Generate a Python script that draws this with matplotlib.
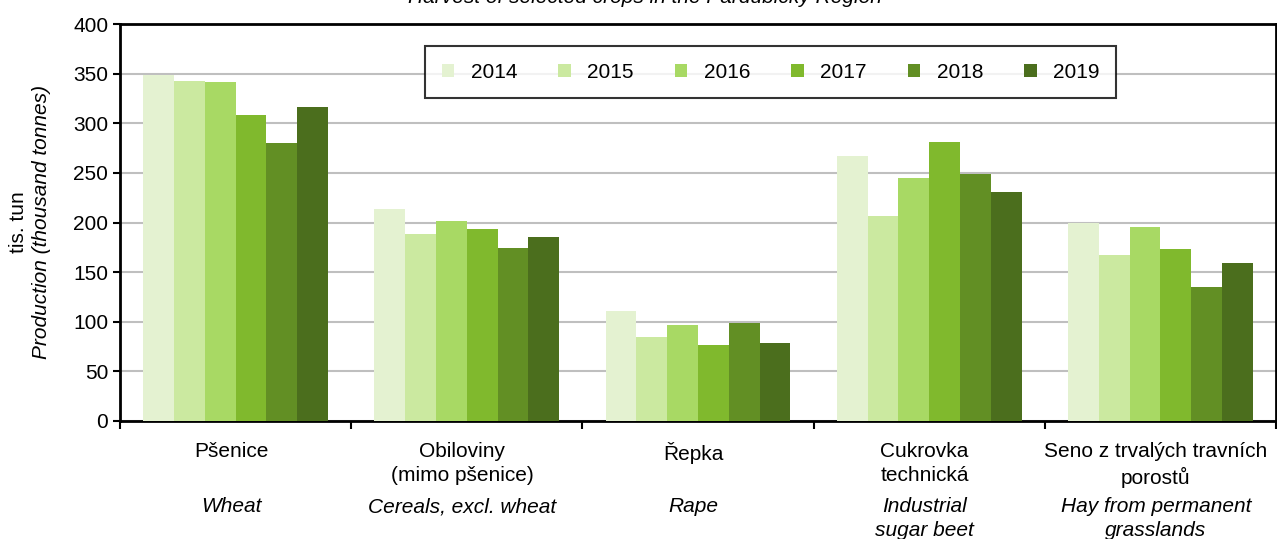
import matplotlib.pyplot as plt
import numpy as np

plt.rcParams['font.family'] = ['Liberation Sans', 'DejaVu Sans']

years = ["2014", "2015", "2016", "2017", "2018", "2019"]
crops_cz = ["Pšenice", "Obiloviny\n(mimo pšenice)", "Řepka", "Cukrovka\ntechnická",
            "Seno z trvalých travních\nporostů"]
crops_en = ["Wheat", "Cereals, excl. wheat", "Rape", "Industrial\nsugar beet",
            "Hay from permanent\ngrasslands"]

# thousand tonnes, per year across the crops
v2014 = [348.6, 214, 110.4, 267, 199]
v2015 = [342.6, 188, 84.6, 206.7, 166.8]
v2016 = [342, 201.8, 96.3, 245, 195]
v2017 = [308, 193.8, 76.2, 281.2, 172.8]
v2018 = [280, 174, 98.3, 249, 134.6]
v2019 = [316, 185.7, 78.5, 230.9, 158.7]
values = [v2014, v2015, v2016, v2017, v2018, v2019]

colors = ["#e4f2d1", "#cbe9a0", "#a8d964", "#80b92d", "#628f24", "#4b6e1d"]

fs = 15

fig = plt.figure(figsize=(12.77, 5.39), dpi=100)
ax = fig.add_axes([120 / 1277, 1 - 421 / 539, 1156 / 1277, 397 / 539])

x = np.arange(len(crops_cz))
w = 0.8 / len(years)
for i, (yr, vals) in enumerate(zip(years, values)):
    ax.bar(x - 0.4 + w * (i + 0.5), vals, w, color=colors[i], label=yr, zorder=3)

ax.set_xlim(-0.5, 4.5)
ax.set_ylim(0, 400)
ax.set_yticks(range(0, 401, 50))
ax.tick_params(axis='y', labelsize=fs, direction='out', length=5, width=1.5)
ax.yaxis.grid(True, color="#bfbfbf", lw=1.5, zorder=0)
ax.set_axisbelow(True)

# category separators as ticks, labels as text
ax.set_xticks(np.arange(-0.5, 5, 1))
ax.set_xticklabels([])
ax.tick_params(axis='x', direction='out', length=6, width=1.5)

for s in ax.spines.values():
    s.set_color("black")
    s.set_linewidth(2)

tr = ax.get_xaxis_transform()
for i in range(len(crops_cz)):
    ax.text(x[i] - 0.02, -0.052, crops_cz[i], transform=tr, ha='center', va='top',
            fontsize=fs, linespacing=1.35)
    ax.text(x[i] - 0.02, -0.192, crops_en[i], transform=tr, ha='center', va='top',
            fontsize=fs, style='italic', linespacing=1.35)

fig.text(18 / 1277, 1 - 222 / 539, "tis. tun", rotation=90, ha='center', va='center', fontsize=fs)
fig.text(42 / 1277, 1 - 222 / 539, "Production (thousand tonnes)", rotation=90,
         ha='center', va='center', fontsize=fs, style='italic')

fig.text(645 / 1277, 1 - 3 / 539, "Harvest of selected crops in the Pardubický Region",
         ha='center', va='baseline', fontsize=fs, style='italic')

leg = ax.legend(ncol=6, loc='center', bbox_to_anchor=(0.255, 0.809, 0.616, 0.14),
                mode='expand', fontsize=fs, frameon=True, fancybox=False,
                handlelength=0.6, handleheight=0.6, columnspacing=1.5, borderpad=0.8)
leg.get_frame().set_edgecolor("black")
leg.get_frame().set_linewidth(1.5)

fig.savefig("out.png", dpi=100)
